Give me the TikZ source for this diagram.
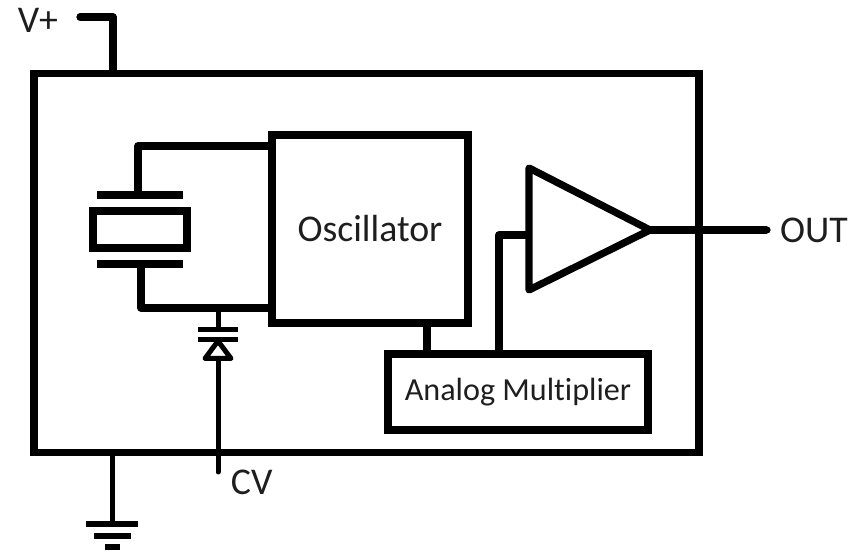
\documentclass[tikz,border=0pt]{standalone}
\usepackage{fontspec}
\setmainfont[Ligatures=NoCommon]{Carlito}
\usepackage{tikz}
\usetikzlibrary{positioning,calc}
\definecolor{labelgrey}{RGB}{30,30,30}
\begin{document}
\begin{tikzpicture}[
    x=0.02cm, y=-0.02cm,
    blockbox/.style={rectangle, draw=black, line width=0.155cm, inner sep=0pt,
        outer sep=0pt, font=\fontsize{21.5}{24}\selectfont,
        text=labelgrey},
    wire/.style={draw=black, line width=0.145cm, line join=round},
    thinwire/.style={draw=black, line width=0.1cm, line join=round},
    plate/.style={draw=black, line width=0.16cm},
    termlabel/.style={inner sep=0pt, outer sep=0pt, text=labelgrey,
        font=\fontsize{21.5}{24}\selectfont}
]
\useasboundingbox (0,0) rectangle (856,553);
\node[blockbox, minimum width=13.3cm, minimum height=7.58cm] (chip) at (366.5,263) {};
\node[blockbox, minimum width=3.92cm, minimum height=3.76cm] (osc) at (370,229) {Oscillator};
\node[blockbox, minimum width=5.2cm, minimum height=1.52cm,
    font=\fontsize{18.3}{20}\selectfont] (mult) at (518,392) {Analog Multiplier};
\node[blockbox, minimum width=1.88cm, minimum height=0.74cm] (xtal) at (140,229.5) {};

\coordinate (vplus) at (80,17);
\coordinate (vdrop) at (113,73);
\node[termlabel, left=0.44cm of vplus, yshift=-0.06cm] (vlabel) {V+};
\draw[wire, line cap=round] (vplus) -| (vdrop);

\coordinate (xtop) at (140,195);
\coordinate (xbot) at (140,264);
\coordinate (xwiretop) at (138,146);
\coordinate (xwirebot) at (141,308);
\draw[plate] (97,195) -- (183,195);
\draw[plate] (97,264) -- (183,264);
\draw[wire] (osc.west |- xwiretop) -- (xwiretop) -- (xwiretop |- xtop);
\draw[wire] (xwirebot |- xbot) -- (xwirebot) -- (osc.west |- xwirebot);

\coordinate (varjoin) at (218,308);
\coordinate (varplate) at (218,330);
\coordinate (cvend) at (218,472);
\draw[thinwire] (varjoin) -- (varplate);
\draw[thinwire] (198,330) -- (238,330);
\draw[thinwire] (198,340) -- (238,340);
\draw[thinwire] (205,358.5) -- (218,341) -- (231,358.5) -- cycle;
\draw[thinwire, line cap=round] (218,358.5) -- (cvend);
\node[termlabel, right=0.26cm of cvend, yshift=-0.2cm, anchor=west] (cvlabel) {CV};

\coordinate (gndtop) at (112,452);
\coordinate (gnd) at (112,524);
\draw[thinwire] (gndtop) -- (gnd);
\draw[line width=0.12cm] (86,524) -- (138,524);
\draw[line width=0.12cm] (94,536) -- (131,536);
\draw[line width=0.12cm] (105,547) -- (120,547);

\coordinate (ampnw) at (529,168);
\coordinate (ampsw) at (529,290);
\coordinate (amptip) at (650,230);
\coordinate (ampin) at (529,235);
\coordinate (ampturn) at (499,235);
\coordinate (outend) at (767,230);
\draw[wire] (ampnw) -- (amptip) -- (ampsw) -- cycle;
\draw[wire] (ampin) -- (ampturn) -- (ampturn |- mult.north);
\draw[wire] (amptip) -- (outend);
\fill (outend) circle (3.6);
\node[termlabel, right=0.26cm of outend] (outlabel) {OUT};

\draw[wire] (427,323) -- (427,354);
\end{tikzpicture}
\end{document}
